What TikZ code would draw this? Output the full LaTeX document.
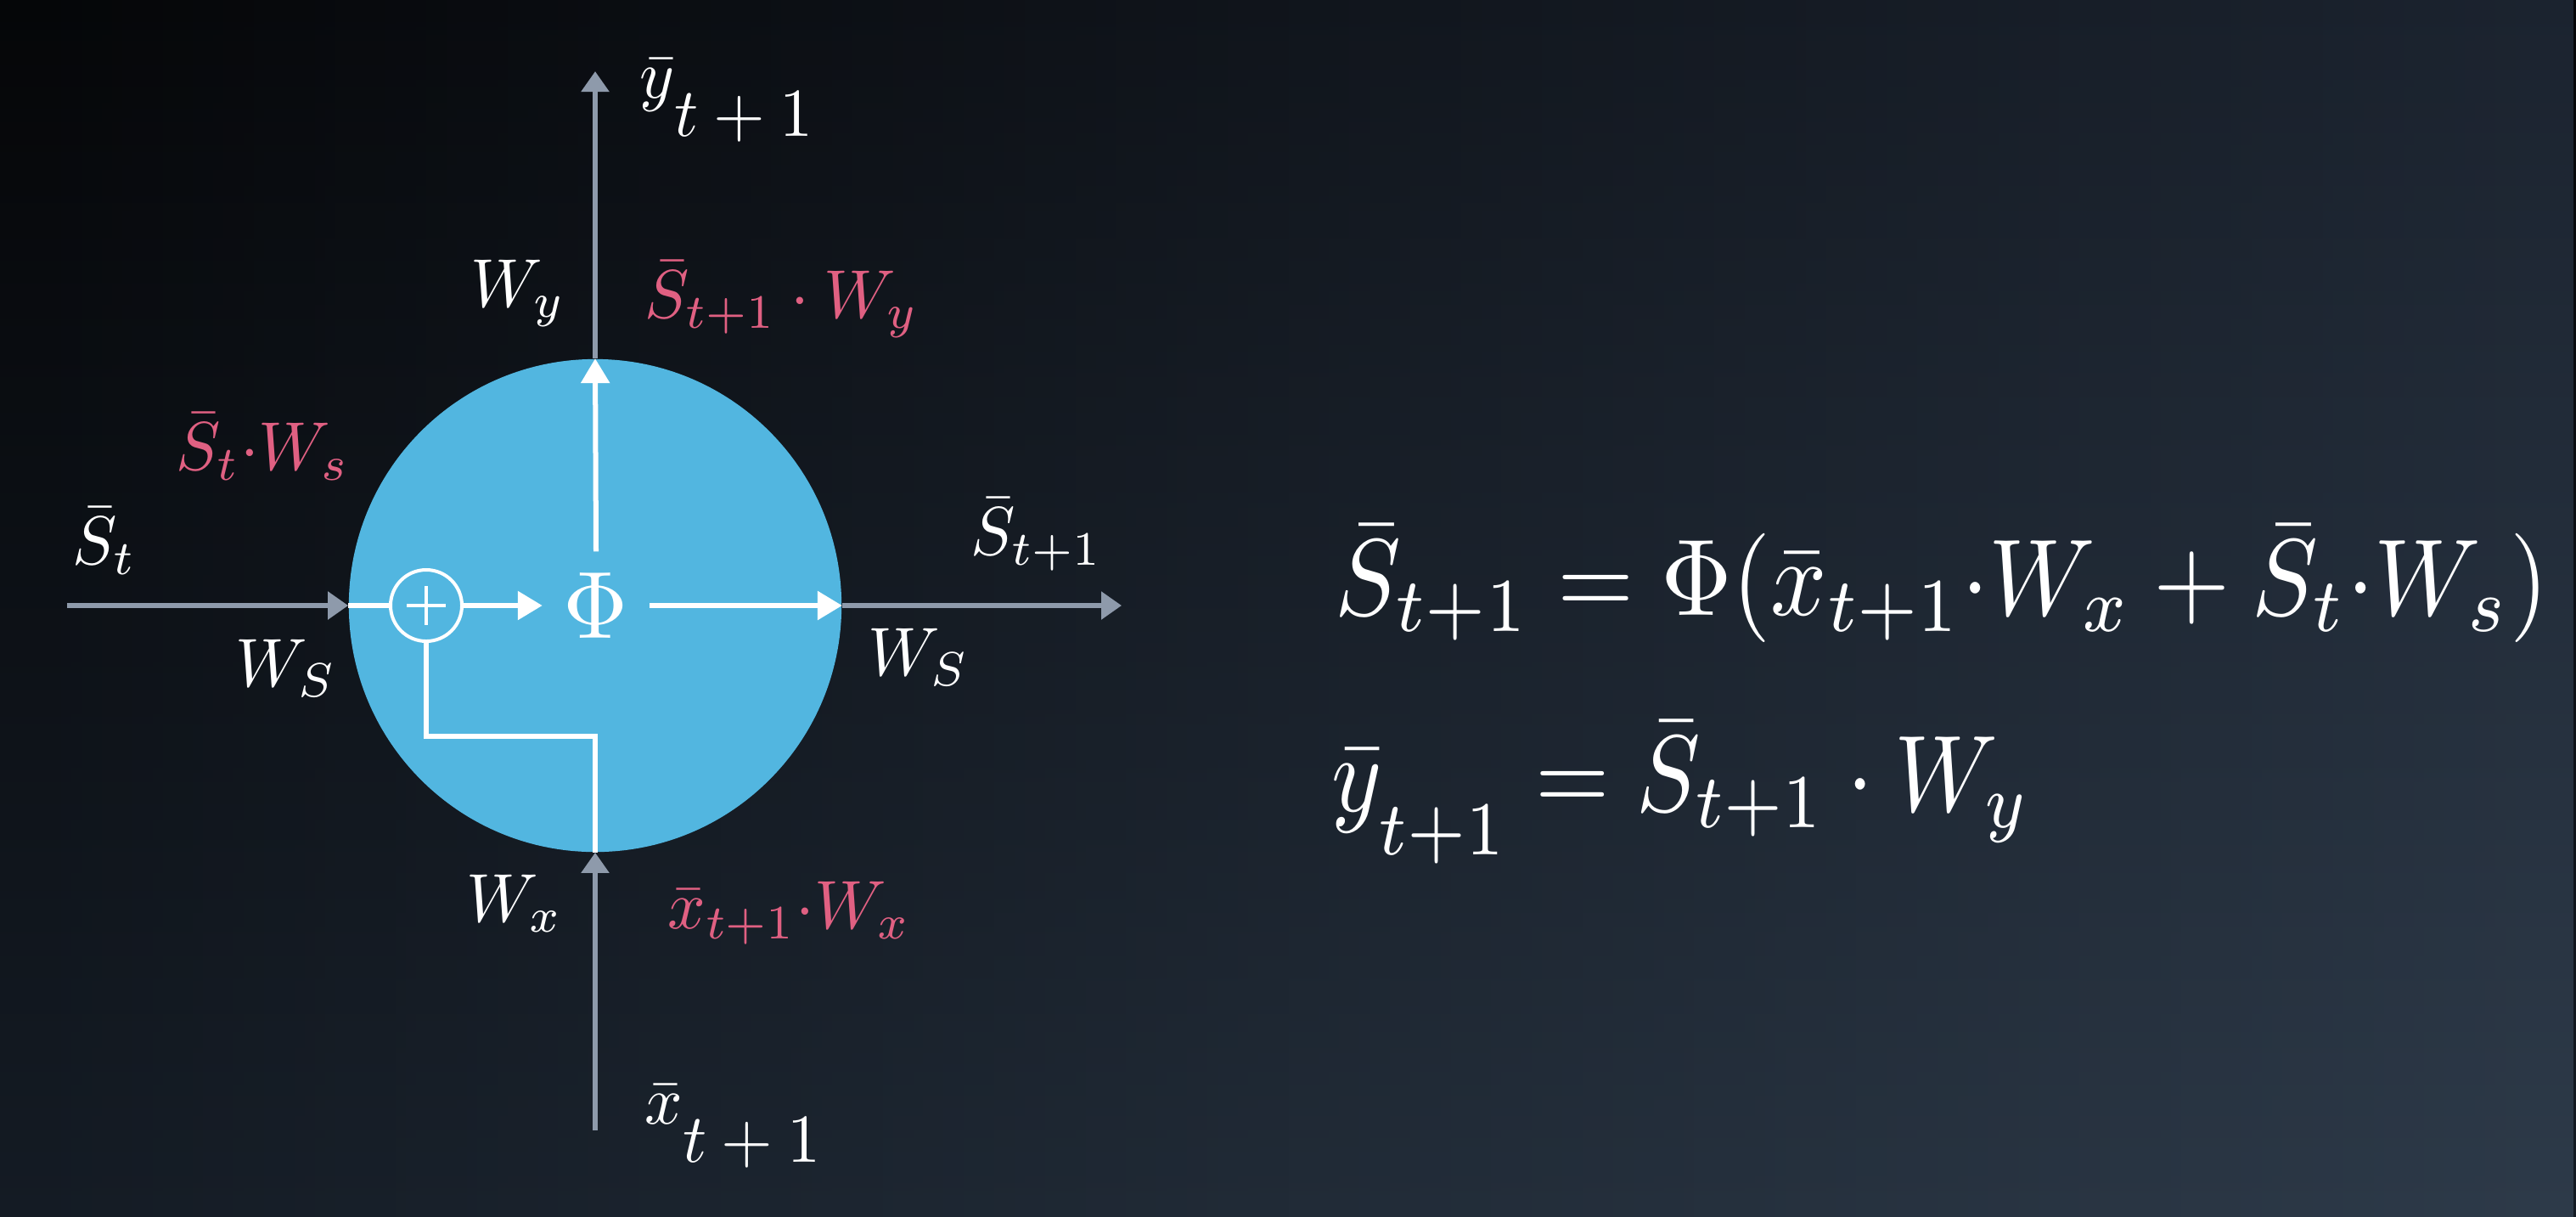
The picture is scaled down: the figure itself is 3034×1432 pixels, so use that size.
\documentclass[tikz,border=0pt]{standalone}
\usepackage{graphicx}
\usetikzlibrary{arrows.meta,fadings,calc}
\definecolor{bgTL}{HTML}{050608}
\definecolor{bgBL}{HTML}{141B24}
\definecolor{bgTR}{HTML}{1C2430}
\definecolor{bgBR}{HTML}{2E3B4A}
\definecolor{cellblue}{HTML}{52B6E0}
\definecolor{axisgray}{HTML}{8E9AAB}
\definecolor{pinklbl}{HTML}{E06082}
\newcommand{\Lb}[1]{\scalebox{2.22}[2.3]{$#1$}}
\tikzfading[name=myfadeLR, left color=transparent!100, right color=transparent!0]
\tikzset{
  grayarrow/.style={draw=axisgray, line width=0.055cm, -{Triangle[length=0.24cm,width=0.32cm]}},
  whiteline/.style={draw=white, line width=0.06cm},
  whitearrow/.style={whiteline, -{Triangle[length=0.29cm,width=0.33cm]}},
  lbl/.style={text=white, inner sep=0, anchor=base west},
  plbl/.style={lbl, text=pinklbl},
  eqn/.style={text=white, inner sep=0, anchor=base west}
}
\begin{document}
\begin{tikzpicture}[x=0.01cm,y=-0.01cm]
\useasboundingbox (0,0) rectangle (3034,1432);
\shade[top color=bgTL, bottom color=bgBL] (0,0) rectangle (3034,1432);
\shade[top color=bgTR, bottom color=bgBR, path fading=myfadeLR] (0,0) rectangle (3034,1432);

% cell
\node[circle, fill=cellblue, minimum size=5.8cm, inner sep=0] (cell) at (701,713) {};

% gray axes
\coordinate (sin) at (79,713);
\coordinate (sout) at (1321,713);
\coordinate (yout) at (701,84);
\coordinate (xin) at (701,1331);
\draw[grayarrow] (sin) -- (cell.west);
\draw[grayarrow] (cell.east) -- (sout);
\draw[grayarrow] (cell.north) -- (yout);
\draw[grayarrow] (xin) -- (cell.south);

% inner nodes
\node[circle, draw=white, line width=0.04cm, fill=cellblue, minimum size=0.84cm, inner sep=0] (plus) at (502,713) {};
\draw[white, line width=0.045cm] ($(plus.center)+(-23,0)$) -- ($(plus.center)+(23,0)$);
\draw[white, line width=0.045cm] ($(plus.center)+(0,-23)$) -- ($(plus.center)+(0,23)$);
\node[text=white, inner sep=0, minimum width=1.25cm, minimum height=1.26cm] (phi) at (702,713) {\scalebox{3}[3.2]{$\Phi$}};
\coordinate (bend) at (701,867);

% white connectors
\draw[whiteline] (cell.west) -- (plus.west);
\draw[whitearrow] (plus.east) -- (phi.west);
\draw[whitearrow] (phi.east) -- (cell.east);
\draw[whitearrow] (phi.north) -- (cell.north);
\draw[whiteline, line join=miter] (plus.south) |- (bend) -- (cell.south);

% labels
\node[lbl] (wy) at (554,361) {\Lb{W_y}};
\node[plbl] (sy) at (759,374) {\Lb{\bar S_{t+1}\cdot W_y}};
\node[plbl] (sws) at (207,553) {\Lb{\bar S_t{\cdot} W_s}};
\node[lbl] (st) at (85,664) {\Lb{\bar S_t}};
\node[lbl] (wsl) at (277,808) {\Lb{W_S}};
\node[lbl] (st1) at (1143,653) {\Lb{\bar S_{t+1}}};
\node[lbl] (wsr) at (1022,795) {\Lb{W_S}};
\node[lbl] (wx) at (549,1085) {\Lb{W_x}};
\node[plbl] (xwx) at (786,1093) {\Lb{\bar x_{t+1}{\cdot} W_x}};
\node[lbl] (ytop) at (753,160) {\Lb{\raisebox{0.55em}{$\bar y$}t+1}};
\node[lbl] (xbot) at (759,1368) {\Lb{\raisebox{0.55em}{$\bar x$}t+1}};

% equations
\node[eqn] (eq1) at (1572,724) {\scalebox{3.3}[3.65]{$\bar S_{t+1} = \Phi(\bar x_{t+1}{\cdot} W_x + \bar S_t{\cdot} W_s)$}};
\node[eqn] (eq2) at (1568,955) {\scalebox{3.2}[3.65]{$\bar y_{\raisebox{-0.25em}{$\scriptstyle t+1$}} = \bar S_{t+1}\cdot W_y$}};
\end{tikzpicture}
\end{document}
